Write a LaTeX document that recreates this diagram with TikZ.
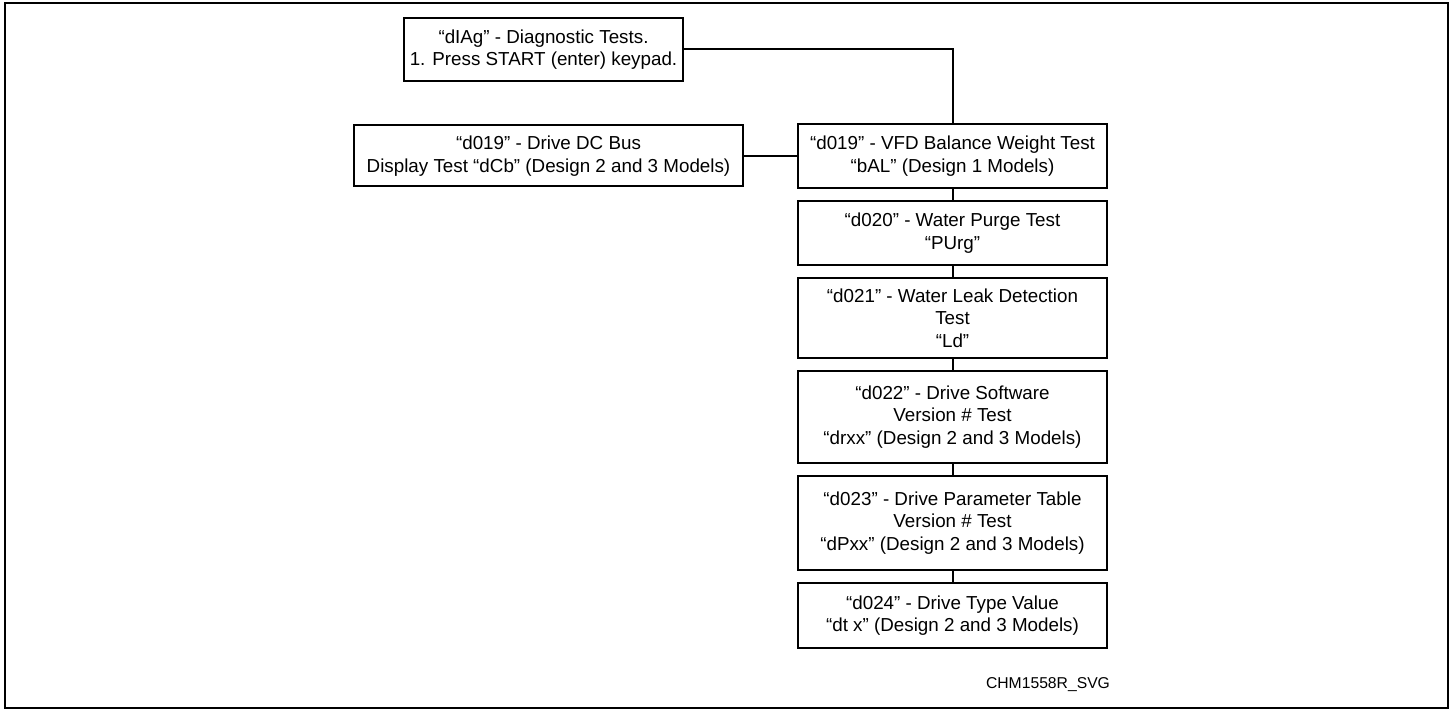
\documentclass[tikz,border=0pt]{standalone}
\usepackage{fontspec}
\setmainfont{Liberation Sans}
\usepackage{tikz}
\usetikzlibrary{positioning}

\begin{document}
\begin{tikzpicture}[x=0.5pt, y=-0.5pt]
			\tikzstyle{Step}	= [rectangle, draw, line width=1pt, fill=white, align=center, inner sep=0pt, outer sep=0pt, font=\fontsize{9.4}{11.25}\selectfont]
			\tikzstyle{Column}	= [Step, minimum width=154.5pt]
			\tikzstyle{Link}	= [line width=1pt]
			\tikzstyle{Frame}	= [line width=1.3pt]

			\useasboundingbox (0,0) rectangle (1453,710);
			\draw (5,3) rectangle (1448,708) [Frame];

			\node (diag) at (543.5,49.5) [Step][minimum width=139.5pt, minimum height=31.5pt] {“dIAg” - Diagnostic Tests.\\1. Press START (enter) keypad.};
			\node (dcbus) at (548.5,156) [Step][minimum width=194.5pt, minimum height=30.5pt] {“d019” - Drive DC Bus\\Display Test “dCb” (Design 2 and 3 Models)};

			\node (vfd) at (952.5,156) [Column][minimum height=32pt] {“d019” - VFD Balance Weight Test\\“bAL” (Design 1 Models)};
			\node (purge) [Column][minimum height=32pt, below=6.5pt of vfd] {“d020” - Water Purge Test\\“PUrg”};
			\node (leak) [Column][minimum height=40pt, below=6.5pt of purge] {“d021” - Water Leak Detection\\Test\\“Ld”};
			\node (soft) [Column][minimum height=46pt, below=6.5pt of leak] {“d022” - Drive Software\\Version \# Test\\“drxx” (Design 2 and 3 Models)};
			\node (param) [Column][minimum height=47pt, below=6.5pt of soft] {“d023” - Drive Parameter Table\\Version \# Test\\“dPxx” (Design 2 and 3 Models)};
			\node (dtype) [Column][minimum height=32.5pt, below=6.5pt of param] {“d024” - Drive Type Value\\“dt x” (Design 2 and 3 Models)};

			\node (tag) at (1048,685) [font=\fontsize{7.85}{9}\selectfont] {CHM1558R\_SVG};

			\draw [-] (diag.east) -| (vfd.north) [Link];
			\draw [-] (dcbus) to (vfd) [Link];
			\draw [-] (vfd) to (purge) [Link];
			\draw [-] (purge) to (leak) [Link];
			\draw [-] (leak) to (soft) [Link];
			\draw [-] (soft) to (param) [Link];
			\draw [-] (param) to (dtype) [Link];
		\end{tikzpicture}
\end{document}
